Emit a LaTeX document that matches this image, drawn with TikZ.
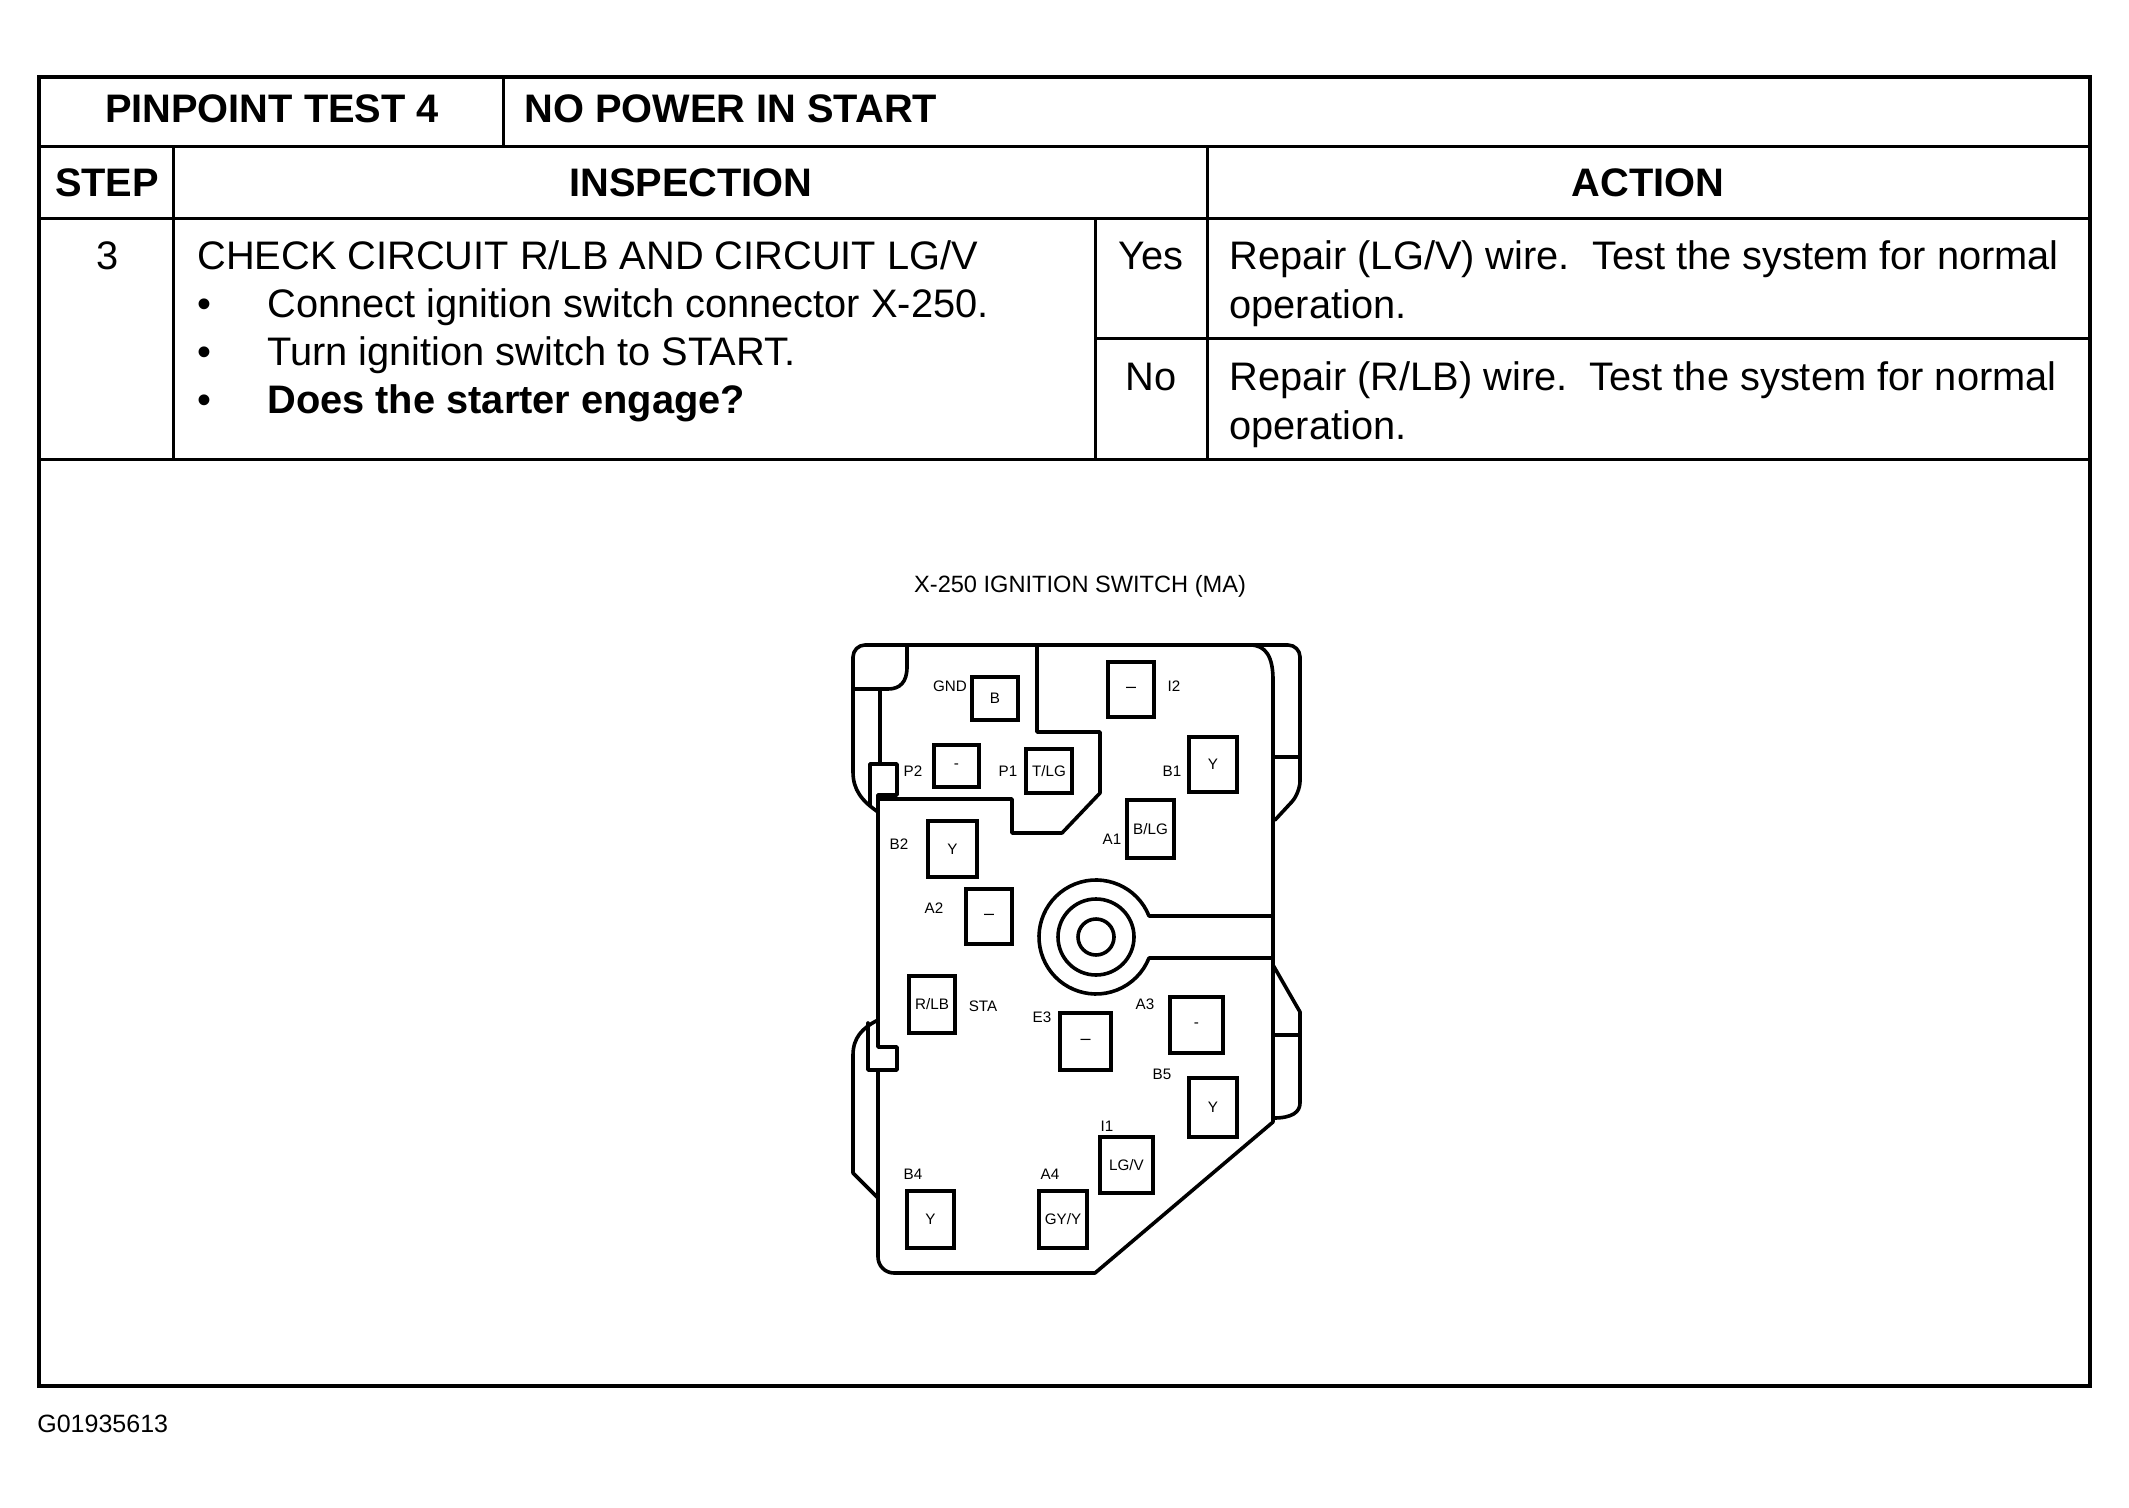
\documentclass[tikz,border=0pt]{standalone}
\usepackage{fontspec}
\setmainfont{Liberation Sans}
\begin{document}
\begin{tikzpicture}[x=0.5pt,y=-0.5pt,
  border/.style={line width=2pt},
  grid/.style={line width=1.5pt},
  conn/.style={line width=1.8pt, line join=round, line cap=round},
  termbox/.style={draw, line width=1.7pt, inner sep=0pt, font=\fontsize{7.6}{8}\selectfont},
  pinlbl/.style={inner sep=0pt, anchor=base, font=\fontsize{7.6}{9}\selectfont},
  body/.style={inner sep=0pt, anchor=base west, font=\fontsize{19.9}{23}\selectfont},
  bodyc/.style={inner sep=0pt, anchor=base, font=\fontsize{19.9}{23}\selectfont},
  head/.style={inner sep=0pt, anchor=base, font=\fontsize{19.9}{23}\selectfont\bfseries},
]
\useasboundingbox (0,0) rectangle (2129,1508);
\fill[white] (0,0) rectangle (2129,1508);

% ---------- table ----------
\draw[border] (39,77) rectangle (2090,1386);
\draw[grid] (39,147) -- (2090,147);
\draw[grid] (503,77) -- (503,147);
\draw[grid] (39,219) -- (2090,219);
\draw[grid] (173,147) -- (173,459);
\draw[grid] (1207,147) -- (1207,459);
\draw[grid] (1095,219) -- (1095,459);
\draw[grid] (1095,339) -- (2090,339);
\draw[grid] (39,459) -- (2090,459);

\node[head] (t1) at (272,123) {PINPOINT TEST 4};
\node[head, anchor=base west] (t2) at (524,123) {NO POWER IN START};
\node[head] (hstep) at (107,197) {STEP};
\node[head] (hinsp) at (691,197) {INSPECTION};
\node[head] (hact) at (1648,197) {ACTION};

\node[bodyc] (s3) at (108,270) {3};
\node[body] (chk) at (197,270) {CHECK CIRCUIT R/LB AND CIRCUIT LG/V};
\node[bodyc] (bu1) at (204,318) {\textbullet};
\node[bodyc] (bu2) at (204,365) {\textbullet};
\node[bodyc] (bu3) at (204,414) {\textbullet};
\node[body] (l1) at (267,318) {Connect ignition switch connector X-250.};
\node[body] (l2) at (267,365) {Turn ignition switch to START.};
\node[body] (l3) at (267,414) {\textbf{Does the starter engage?}};

\node[bodyc] (yes) at (1151,270) {Yes};
\node[bodyc] (no) at (1151,390) {No};
\node[body] (a1) at (1229,270) {Repair (LG/V) wire.\ \ Test the system for normal};
\node[body] (a2) at (1229,319) {operation.};
\node[body] (a3) at (1229,390) {Repair (R/LB) wire.\ \ Test the system for normal};
\node[body] (a4) at (1229,439) {operation.};

% ---------- connector drawing ----------
\node[inner sep=0pt, anchor=base, font=\fontsize{11.8}{13}\selectfont] (title) at (1080,592) {X-250 IGNITION SWITCH (MA)};

% outer top contour with flanges
\draw[conn] (878,812) .. controls (862,801) and (853,790) .. (853,772)
  [rounded corners=6pt] -- (853,645) -- (1300,645) -- (1300,793) [sharp corners] -- (1275,820);
% main body right/bottom/left edge
\draw[conn] (1250,645) .. controls (1266,645) and (1273,657) .. (1273,680)
  -- (1273,1122) -- (1095,1273) [rounded corners=8pt] -- (878,1273) [sharp corners] -- (878,1070);
% tabs and left edge
\draw[conn] (868,1023) -- (868,1070) -- (897,1070) -- (897,1047) -- (878,1047)
  -- (878,795) -- (897,795) -- (897,764) -- (870,764) -- (870,805);
\draw[conn] (880,689) -- (880,764);
% lower left flange
\draw[conn] (878,1020) .. controls (862,1028) and (853,1038) .. (853,1055) -- (853,1173) -- (878,1198);
% top-left corner piece
\draw[conn] (907,645) -- (907,667) .. controls (907,682) and (900,689) .. (888,689) -- (853,689);
% right flanges
\draw[conn] (1273,757) -- (1300,757);
\draw[conn] (1273,965) -- (1300,1012) -- (1300,1103) .. controls (1300,1112) and (1292,1118) .. (1274,1118);
\draw[conn] (1273,1035) -- (1300,1035);
% inner region boundary
\draw[conn] (880,799) -- (1012,799) -- (1012,833) -- (1062,833) -- (1100,793)
  -- (1100,732) -- (1037,732) -- (1037,645);
% keyhole
\draw[conn] (1273,916) -- (1149,916) arc[start angle=21.6, end angle=338.4, radius=28.5pt] -- (1273,958);
\draw[conn] (1096,937) circle[radius=19pt];
\draw[conn] (1096,937) circle[radius=9pt];

% terminals
\node[termbox, minimum width=23pt, minimum height=21.5pt] (tGND) at (995,698.5) {B};
\node[termbox, minimum width=23pt, minimum height=27.5pt] (tI2) at (1131,689.5) {\fontsize{9}{9}\selectfont\textendash};
\node[termbox, minimum width=22.5pt, minimum height=21pt] (tP2) at (956.5,766) {-};
\node[termbox, minimum width=23pt, minimum height=22pt] (tP1) at (1049,771) {T/LG};
\node[termbox, minimum width=24pt, minimum height=27.5pt] (tB1) at (1213,764.5) {Y};
\node[termbox, minimum width=23.5pt, minimum height=29pt] (tA1) at (1150.5,829) {B/LG};
\node[termbox, minimum width=24.5pt, minimum height=28pt] (tB2) at (952.5,849) {Y};
\node[termbox, minimum width=23pt, minimum height=27.5pt] (tA2) at (989,916.5) {\fontsize{9}{9}\selectfont\textendash};
\node[termbox, minimum width=23pt, minimum height=28.5pt] (tSTA) at (932,1004.5) {R/LB};
\node[termbox, minimum width=25.5pt, minimum height=28.5pt] (tE3) at (1085.5,1041.5) {\fontsize{9}{9}\selectfont\textendash};
\node[termbox, minimum width=26.5pt, minimum height=28pt] (tA3) at (1196.5,1025) {-};
\node[termbox, minimum width=24pt, minimum height=29.5pt] (tB5) at (1213,1107.5) {Y};
\node[termbox, minimum width=26.5pt, minimum height=28pt] (tI1) at (1126.5,1165) {LG/V};
\node[termbox, minimum width=23.5pt, minimum height=28.5pt] (tB4) at (930.5,1219.5) {Y};
\node[termbox, minimum width=24pt, minimum height=28.5pt] (tA4) at (1063,1219.5) {GY/Y};

% pin labels
\node[pinlbl] (lGND) at (950,691) {GND};
\node[pinlbl] (lI2) at (1174,691) {I2};
\node[pinlbl] (lP2) at (913,776) {P2};
\node[pinlbl] (lP1) at (1008,776) {P1};
\node[pinlbl] (lB1) at (1172,776) {B1};
\node[pinlbl] (lA1) at (1112,844) {A1};
\node[pinlbl] (lB2) at (899,849) {B2};
\node[pinlbl] (lA2) at (934,913) {A2};
\node[pinlbl] (lSTA) at (983,1011) {STA};
\node[pinlbl] (lE3) at (1042,1022) {E3};
\node[pinlbl] (lA3) at (1145,1009) {A3};
\node[pinlbl] (lB5) at (1162,1079) {B5};
\node[pinlbl] (lI1) at (1107,1131) {I1};
\node[pinlbl] (lB4) at (913,1179) {B4};
\node[pinlbl] (lA4) at (1050,1179) {A4};

% footer
\node[inner sep=0pt, anchor=base west, font=\fontsize{12.5}{14}\selectfont] (fig) at (37,1432) {G01935613};
\end{tikzpicture}
\end{document}
